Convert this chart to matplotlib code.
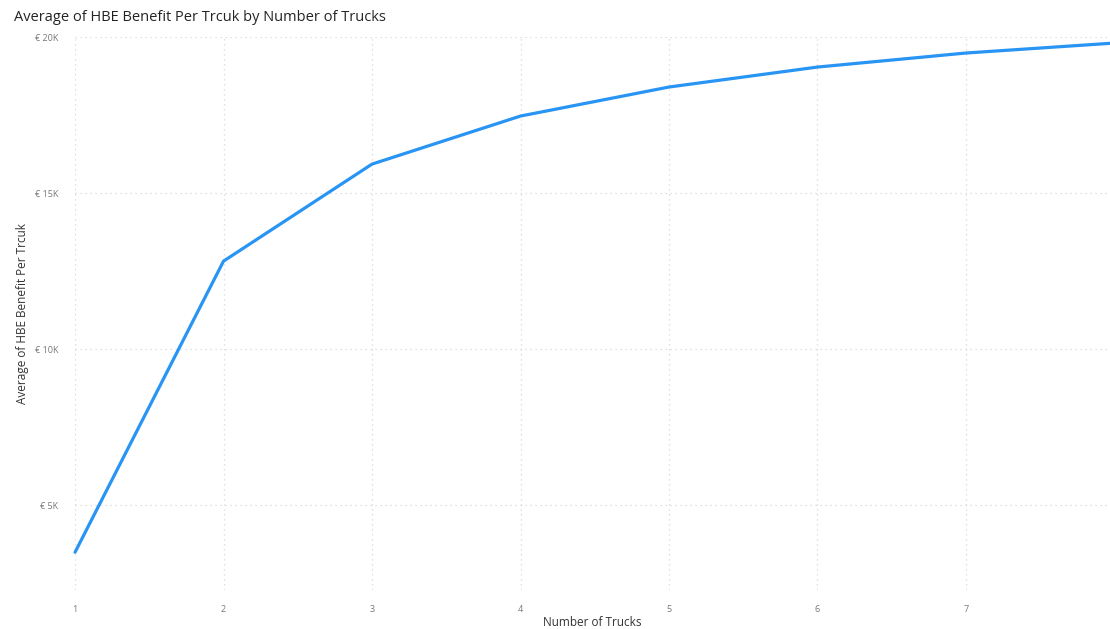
import matplotlib
matplotlib.use('Agg')
import matplotlib.pyplot as plt
from matplotlib.ticker import FuncFormatter

plt.rcParams['font.family'] = ['Open Sans', 'DejaVu Sans']

trucks = [1, 2, 3, 4, 5, 6, 7, 8]
benefit = [3490, 12820, 15930, 17470, 18400, 19040, 19490, 19810]
y_ticks = [5000, 10000, 15000, 20000]

fig = plt.figure(figsize=(11.1, 6.29), dpi=100)
ax = fig.add_axes([0.0676, 0.062, 0.9324, 0.879])

ax.plot(trucks, benefit, color='#2894F4', lw=2.3, solid_capstyle='round',
        solid_joinstyle='round', zorder=3, clip_on=False)

ax.set_xlim(1, 7.97)
ax.set_ylim(2280, 20000)
ax.set_xticks(trucks[:-1])
ax.set_yticks(y_ticks)
ax.yaxis.set_major_formatter(FuncFormatter(lambda v, _: f'€ {v/1000:.0f}K'))

ax.grid(True, color='#D6D6D6', linestyle=(0, (1, 3)), lw=0.9)
for s in ax.spines.values():
    s.set_visible(False)
ax.tick_params(length=0, labelsize=6.5, labelcolor='#777777')
ax.tick_params(axis='x', pad=11)
ax.tick_params(axis='y', pad=12)

ax.set_xlabel('Number of Trucks', fontsize=8.5, color='#333333', labelpad=1.5)
ax.set_ylabel('Average of HBE Benefit Per Trcuk', fontsize=8.5,
              color='#333333', labelpad=4)

fig.text(0.0126, 0.972, 'Average of HBE Benefit Per Trcuk by Number of Trucks',
         fontsize=10.5, color='#252423', ha='left', va='center')

fig.savefig('out.png', dpi=100, facecolor='white')
